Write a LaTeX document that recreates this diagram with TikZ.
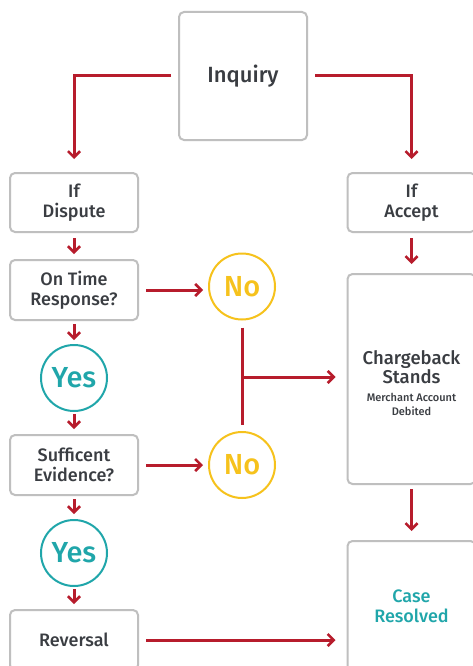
\documentclass[tikz,border=0pt]{standalone}
\usepackage{fontspec}
\setmainfont{Fira Sans}[BoldFont={Fira Sans Medium}]
\usetikzlibrary{arrows.meta}
\definecolor{cred}{HTML}{B71C2C}
\definecolor{cgray}{HTML}{BFBFBF}
\definecolor{ctext}{HTML}{3A3D42}
\definecolor{cteal}{HTML}{20A6AA}
\definecolor{cyel}{HTML}{F6C21C}
\tikzset{
  box/.style={draw=cgray, line width=2pt, rounded corners=5pt, fill=white,
    text=ctext, align=center, inner sep=0pt, minimum width=128pt,
    font=\fontsize{18}{20}\selectfont\bfseries},
  txt/.style={text=ctext, align=center, inner sep=0pt},
  circ/.style={circle, line width=2pt, minimum size=66pt, inner sep=0pt,
    font=\fontsize{29}{30}\selectfont\bfseries},
  yes/.style={circ, draw=cteal, text=cteal},
  no/.style={circ, draw=cyel, text=cyel},
  arr/.style={draw=cred, line width=3pt,
    -{Straight Barb[length=6pt,width=12pt,line width=2.6pt]}},
  ln/.style={draw=cred, line width=3pt},
}
\begin{document}
\begin{tikzpicture}[x=1pt,y=-1pt]
\useasboundingbox (0,0) rectangle (473,666);
\fill[white] (0,0) rectangle (473,666);
\node[box, minimum height=128pt, font=\fontsize{22}{24}\selectfont\bfseries] (inq) at (243,76) {Inquiry};
\node[box, minimum height=59pt] (disp) at (74,202.5) {If\\Dispute};
\node[box, minimum height=59pt] (acc) at (411.5,202.5) {If\\Accept};
\node[box, minimum height=60pt] (ontime) at (74,290) {On Time\\Response?};
\node[yes] (yes1) at (74,378) {Yes};
\node[box, minimum height=60pt] (suff) at (74,465) {Sufficent\\Evidence?};
\node[yes] (yes2) at (74,553) {Yes};
\node[box, minimum height=60pt] (rev) at (74,640) {Reversal};
\node[no] (no1) at (242,286.5) {No};
\node[no] (no2) at (242,465) {No};
\node[box, minimum height=210pt] (cb) at (411.5,379) {};
\node[txt, font=\fontsize{18.5}{19}\selectfont\bfseries] (cbt) at (411.5,367) {Chargeback\\Stands};
\node[txt, font=\fontsize{11}{14}\selectfont\bfseries] (cbs) at (411.5,404.5) {Merchant Account\\Debited};
\node[box, minimum height=130pt, text=cteal] (case) at (411.5,606) {Case\\Resolved};
\coordinate (br) at (242,377);
% connectors
\draw[arr, shorten <=7pt, shorten >=13pt] (inq.west) -| (disp.north);
\draw[arr, shorten <=7pt, shorten >=13pt] (inq.east) -| (acc.north);
\draw[arr, shorten <=5pt, shorten >=5pt] (disp.south) -- (ontime.north);
\draw[arr, shorten <=3pt, shorten >=4pt] (ontime.south) -- (yes1.north);
\draw[arr, shorten <=2pt, shorten >=5pt] (yes1.south) -- (suff.north);
\draw[arr, shorten <=3pt, shorten >=5pt] (suff.south) -- (yes2.north);
\draw[arr, shorten <=2pt, shorten >=5pt] (yes2.south) -- (rev.north);
\draw[arr, shorten <=7pt, shorten >=5pt] (ontime.east) -- (no1.west |- ontime.east);
\draw[arr, shorten <=7pt, shorten >=5pt] (suff.east) -- (no2.west);
\draw[ln, shorten <=7pt, shorten >=6pt] (no1.south) -- (no2.north);
\draw[arr, shorten >=11pt] (br) -- (cb.west |- br);
\draw[arr, shorten <=5pt, shorten >=9pt] (acc.south) -- (cb.north);
\draw[arr, shorten <=4pt, shorten >=9pt] (cb.south) -- (case.north);
\draw[arr, shorten <=7pt, shorten >=11pt] (rev.east) -- (case.west |- rev.east);
\end{tikzpicture}
\end{document}
